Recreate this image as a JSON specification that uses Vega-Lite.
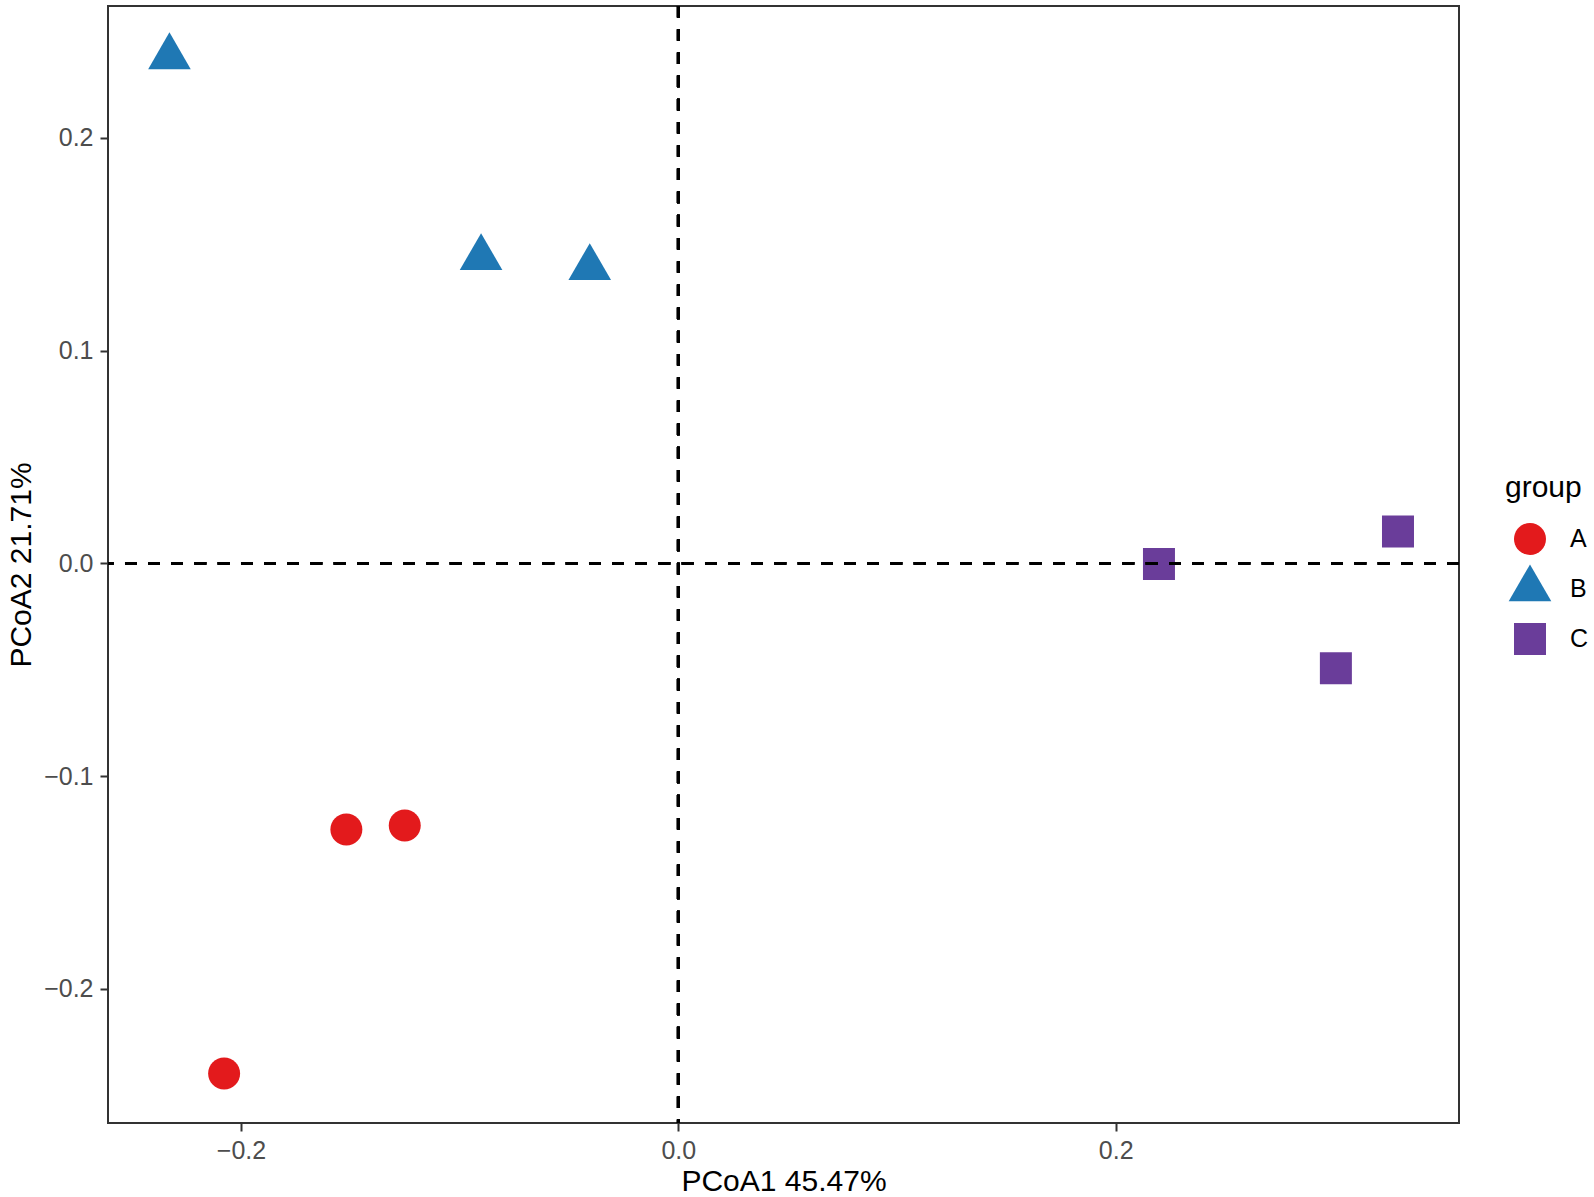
{
  "$schema": "https://vega.github.io/schema/vega-lite/v6.json",
  "autosize": {"type": "none"},
  "padding": {"left": 108, "top": 6, "right": 135, "bottom": 74},
  "width": 1351,
  "height": 1117,
  "background": "white",
  "config": {
    "font": "Liberation Sans",
    "view": {"stroke": "#333333", "strokeWidth": 2},
    "axis": {
      "grid": false,
      "domain": false,
      "ticks": true,
      "tickColor": "#333333",
      "tickWidth": 2,
      "tickSize": 8,
      "labelPadding": 7,
      "labelFontSize": 25,
      "labelColor": "#4D4D4D",
      "labelFont": "Liberation Sans",
      "titleFont": "Liberation Sans",
      "titleFontSize": 30,
      "titleFontWeight": "normal",
      "titleColor": "black"
    },
    "legend": {
      "titleFont": "Liberation Sans",
      "labelFont": "Liberation Sans"
    }
  },
  "data": {
    "values": [
      {"sample": "A1", "group": "A", "PCoA1": -0.2077, "PCoA2": -0.2397},
      {"sample": "A2", "group": "A", "PCoA1": -0.1518, "PCoA2": -0.1251},
      {"sample": "A3", "group": "A", "PCoA1": -0.1251, "PCoA2": -0.1232},
      {"sample": "B1", "group": "B", "PCoA1": -0.2327, "PCoA2": 0.2380},
      {"sample": "B2", "group": "B", "PCoA1": -0.0902, "PCoA2": 0.1436},
      {"sample": "B3", "group": "B", "PCoA1": -0.0405, "PCoA2": 0.1389},
      {"sample": "C1", "group": "C", "PCoA1": 0.2198, "PCoA2": -0.0003},
      {"sample": "C2", "group": "C", "PCoA1": 0.3007, "PCoA2": -0.0493},
      {"sample": "C3", "group": "C", "PCoA1": 0.3291, "PCoA2": 0.0149}
    ]
  },
  "layer": [
    {
      "mark": {"type": "point", "filled": true, "opacity": 1, "strokeWidth": 0, "size": 2500},
      "encoding": {
        "x": {
          "field": "PCoA1", "type": "quantitative",
          "scale": {"domain": [-0.2608, 0.357], "nice": false, "zero": false},
          "axis": {"title": "PCoA1 45.47%", "values": [-0.2, 0, 0.2], "format": ".1f", "titleY": 67, "titleBaseline": "alphabetic"}
        },
        "y": {
          "field": "PCoA2", "type": "quantitative",
          "scale": {"domain": [-0.263, 0.2619], "nice": false, "zero": false},
          "axis": {"title": "PCoA2 21.71%", "values": [-0.2, -0.1, 0, 0.1, 0.2], "format": ".1f", "titleX": -78, "titleBaseline": "alphabetic"}
        },
        "color": {
          "field": "group", "type": "nominal",
          "scale": {"domain": ["A", "B", "C"], "range": ["#E31A1C", "#1F78B4", "#6A3D9A"]},
          "legend": {
            "title": "group", "orient": "none", "legendX": 1397, "legendY": 467,
            "titleFontSize": 30, "titleFontWeight": "normal", "titleColor": "black", "titlePadding": 11,
            "labelFontSize": 25, "labelColor": "black", "labelOffset": 15,
            "symbolSize": 2500, "symbolStrokeWidth": 0, "symbolOffset": 0, "rowPadding": -1, "symbolOpacity": 1
          }
        },
        "shape": {
          "field": "group", "type": "nominal",
          "scale": {"domain": ["A", "B", "C"], "range": [
            "M-1,-1M1,1M0.64,0A0.64,0.64,0,1,1,-0.64,0A0.64,0.64,0,1,1,0.64,0Z",
            "M-1,-1M1,1M0,-0.984L0.852,0.492L-0.852,0.492Z",
            "M-1,-1M1,1M-0.64,-0.64L0.64,-0.64L0.64,0.64L-0.64,0.64Z"
          ]},
          "legend": {
            "title": "group", "orient": "none", "legendX": 1397, "legendY": 467,
            "titleFontSize": 30, "titleFontWeight": "normal", "titleColor": "black", "titlePadding": 11,
            "labelFontSize": 25, "labelColor": "black", "labelOffset": 15,
            "symbolSize": 2500, "symbolStrokeWidth": 0, "symbolOffset": 0, "rowPadding": -1, "symbolOpacity": 1
          }
        }
      }
    },
    {
      "mark": {"type": "rule", "color": "black", "strokeWidth": 2.8, "strokeDash": [11.6, 11.6]},
      "encoding": {"x": {"datum": 0, "type": "quantitative"}}
    },
    {
      "mark": {"type": "rule", "color": "black", "strokeWidth": 2.8, "strokeDash": [11.6, 11.6]},
      "encoding": {"y": {"datum": 0, "type": "quantitative"}}
    }
  ]
}
